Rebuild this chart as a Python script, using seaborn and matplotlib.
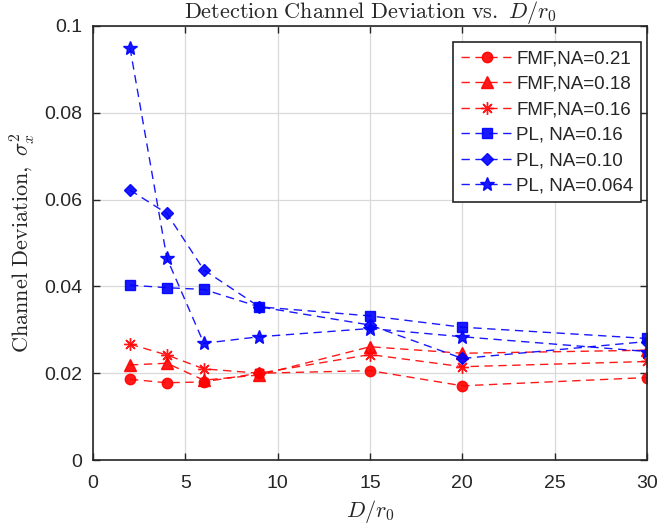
import matplotlib
matplotlib.use("Agg")
import matplotlib.pyplot as plt
import seaborn as sns
import pandas as pd

# D/r0 sample points
d_over_r0 = [2, 4, 6, 9, 15, 20, 30]

# Channel deviation for each receiver type / numerical aperture
fmf_na021 = [0.0186, 0.0178, 0.0180, 0.0200, 0.0206, 0.0171, 0.0190]
fmf_na018 = [0.0219, 0.0223, 0.0184, 0.0196, 0.0261, 0.0246, 0.0253]
fmf_na016 = [0.0267, 0.0242, 0.0210, 0.0200, 0.0243, 0.0215, 0.0227]
pl_na016 = [0.0403, 0.0397, 0.0393, 0.0353, 0.0332, 0.0306, 0.0280]
pl_na010 = [0.0622, 0.0568, 0.0438, 0.0353, 0.0311, 0.0234, 0.0273]
pl_na0064 = [0.0950, 0.0465, 0.0269, 0.0284, 0.0303, 0.0284, 0.0250]

series_labels = ["FMF,NA=0.21", "FMF,NA=0.18", "FMF,NA=0.16",
                 "PL, NA=0.16", "PL, NA=0.10", "PL, NA=0.064"]

x_ticks = [0, 5, 10, 15, 20, 25, 30]
y_ticks = [0, 0.02, 0.04, 0.06, 0.08, 0.1]
y_tick_labels = ["0", "0.02", "0.04", "0.06", "0.08", "0.1"]

sns.set_theme(style="white")
plt.rcParams["font.family"] = ["Liberation Sans", "DejaVu Sans"]
plt.rcParams["mathtext.fontset"] = "cm"

fig = plt.figure(figsize=(6.57, 5.27), dpi=100)
ax = fig.add_axes([0.1416, 0.1271, 0.8432, 0.8236])

styles = [
    (fmf_na021, "red", "o", 7.5),
    (fmf_na018, "red", "^", 8),
    (fmf_na016, "red", (8, 2, 0), 9),
    (pl_na016, "blue", "s", 6.5),
    (pl_na010, "blue", "D", 6.5),
    (pl_na0064, "blue", "*", 10),
]

for (vals, color, marker, ms), label in zip(styles, series_labels):
    df = pd.DataFrame({"x": d_over_r0, "y": vals})
    sns.lineplot(data=df, x="x", y="y", ax=ax, color=color, marker=marker,
                 markersize=ms, markeredgewidth=1.0, markeredgecolor=color,
                 markerfacecolor=color, linestyle=(0, (6, 4)), linewidth=1.0,
                 label=label, sort=False, errorbar=None, alpha=0.9)

ax.set_xlim(0, 30)
ax.set_ylim(0, 0.1)
ax.set_xticks(x_ticks)
ax.set_xticklabels([str(t) for t in x_ticks])
ax.set_yticks(y_ticks)
ax.set_yticklabels(y_tick_labels)
ax.tick_params(axis="both", which="both", direction="in", length=5, width=1,
               top=True, right=True, bottom=True, left=True,
               labelsize=14, colors="#262626")
ax.tick_params(axis="x", pad=11)
ax.tick_params(axis="y", pad=8)
ax.grid(True, color="#d9d9d9", linewidth=0.9)
for spine in ax.spines.values():
    spine.set_color("#262626")
    spine.set_linewidth(1.2)

ax.set_title(r"$\mathrm{Detection\ Channel\ Deviation\ vs.}\ D/r_0$",
             fontsize=16, pad=5)
ax.set_xlabel(r"$D/r_0$", fontsize=16, labelpad=4)
ax.set_ylabel(r"$\mathrm{Channel\ Deviation,}\ \sigma_x^2$", fontsize=16,
              labelpad=5)

leg = ax.legend(loc="upper right", bbox_to_anchor=(0.999, 0.975), fontsize=13.5,
                frameon=True, fancybox=False, edgecolor="#262626",
                framealpha=1, handlelength=2.8, handletextpad=0.15,
                borderpad=0.4, labelspacing=0.45, borderaxespad=0.3)
leg.get_frame().set_linewidth(1.2)

fig.savefig("out.png", dpi=100)
